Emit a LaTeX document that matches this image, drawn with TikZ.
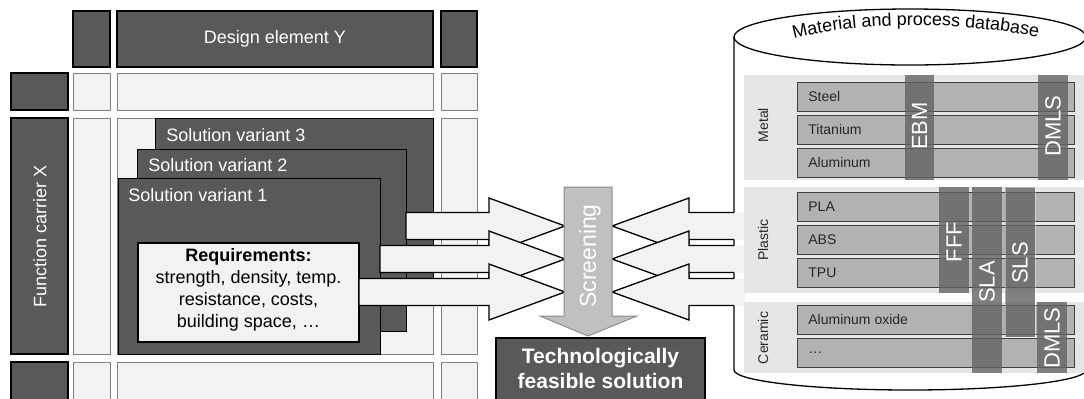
\documentclass[tikz,border=0pt]{standalone}
\usepackage{fontspec}
\setmainfont{Liberation Sans}
\usetikzlibrary{decorations.text}

\definecolor{cellDark}{HTML}{595959}
\definecolor{cellLight}{HTML}{F2F2F2}
\definecolor{groupBg}{HTML}{E6E6E6}
\definecolor{rowFill}{HTML}{B2B2B2}
\definecolor{procBar}{HTML}{636363}
\definecolor{screenFill}{HTML}{C0C0C0}
\newcommand{\dbtitlefont}{\fontsize{9}{11}\selectfont}

\begin{document}
\begin{tikzpicture}[x=0.5pt, y=-0.5pt,
  darkcell/.style={fill=cellDark, draw=black, line width=0.75pt},
  lightcell/.style={fill=cellLight, draw=black!50, line width=0.5pt},
  variant/.style={fill=cellDark, draw=black, line width=0.5pt},
  reqbox/.style={fill=cellLight, draw=black, line width=0.6pt},
  celltext/.style={text=white, font=\fontsize{9}{11}\selectfont},
  vartext/.style={celltext, anchor=north west, inner sep=0pt},
  blockarr/.style={fill=cellLight, draw=black, line width=0.65pt, line join=miter},
  screenarr/.style={fill=screenFill, draw=black!45, line width=0.5pt},
  techbox/.style={fill=cellDark, draw=black, line width=1.25pt},
  techtext/.style={text=white, align=center, font=\fontsize{10.5}{12.5}\selectfont\bfseries},
  dbshape/.style={fill=white, draw=black, line width=0.65pt},
  groupbg/.style={fill=groupBg, draw=none},
  grouplabel/.style={rotate=90, text=black!85, font=\fontsize{7}{8}\selectfont},
  dbrow/.style={fill=rowFill, draw=black!75, line width=0.5pt},
  rowtext/.style={anchor=west, inner sep=0pt, text=black!85, font=\fontsize{7}{8}\selectfont},
  procbar/.style={fill=procBar, fill opacity=0.8, draw=none},
  proctext/.style={rotate=90, text=white, font=\fontsize{11}{13}\selectfont},
]
\clip (0,0) rectangle (1084,398);
% ====== MORPHOLOGICAL GRID ======
\draw[darkcell] (73,11) rectangle (110,67);
\draw[darkcell] (117,11) rectangle (433,67);
\draw[darkcell] (441,11) rectangle (477,67);
\node[celltext] (designY) at (275,39) {Design element Y};
%
\draw[darkcell] (11,73) rectangle (68,110);
\draw[lightcell] (73,73) rectangle (110,110);
\draw[lightcell] (117,73) rectangle (433,110);
\draw[lightcell] (441,73) rectangle (477,110);
%
\draw[darkcell] (11,118) rectangle (68,354);
\draw[lightcell] (73,118) rectangle (110,354);
\draw[lightcell] (117,118) rectangle (433,354);
\draw[lightcell] (441,118) rectangle (477,354);
\node[celltext, rotate=90] (carrierX) at (40,236) {Function carrier X};
%
\draw[darkcell] (11,362) rectangle (68,402);
\draw[lightcell] (73,362) rectangle (110,402);
\draw[lightcell] (117,362) rectangle (433,402);
\draw[lightcell] (441,362) rectangle (477,402);
%
% ====== SOLUTION VARIANTS ======
\draw[variant] (155,118) rectangle (433,300);
\node[vartext] (var3) at (166,128) {Solution variant 3};
\draw[variant] (137,149) rectangle (406,331);
\node[vartext] (var2) at (148,158) {Solution variant 2};
\draw[variant] (118,178) rectangle (380,354);
\node[vartext] (var1) at (128,188) {Solution variant 1};
\draw[reqbox] (138,243) rectangle (359,342);
\node[align=center, font=\fontsize{9}{11}\selectfont] (req) at (248.5,290)
  {\textbf{Requirements:}\\strength, density, temp.\\resistance, costs,\\building space, …};
%
% ====== DATABASE ======
\draw[dbshape] (734,37) -- (734,370)
  arc[start angle=180, end angle=0, x radius=176, y radius=20] -- (1086,37);
\draw[dbshape] (910,37) ellipse [x radius=176, y radius=28];
\path[decorate, decoration={text along path, text align=center,
  text={|\dbtitlefont|Material and process database}}]
  (792,39) .. controls (858,21) and (962,21) .. (1040,38);
%
% ====== ARROWS INTO SCREENING ======
\draw[blockarr] (406,212.5) -- (489,212.5) -- (489,198) -- (565,226) -- (489,254) -- (489,239.5) -- (406,239.5) -- cycle;
\draw[blockarr] (380,245.5) -- (489,245.5) -- (489,231) -- (565,259) -- (489,287) -- (489,272.5) -- (380,272.5) -- cycle;
\draw[blockarr] (359,278.5) -- (489,278.5) -- (489,264) -- (565,292) -- (489,320) -- (489,305.5) -- (359,305.5) -- cycle;
\fill[cellLight] (745,212.5) -- (689,212.5) -- (689,198) -- (612,226) -- (689,254) -- (689,239.5) -- (745,239.5) -- cycle;
\draw[blockarr, fill=none] (734,212.5) -- (689,212.5) -- (689,198) -- (612,226) -- (689,254) -- (689,239.5) -- (734,239.5);
\fill[cellLight] (745,245.5) -- (689,245.5) -- (689,231) -- (612,259) -- (689,287) -- (689,272.5) -- (745,272.5) -- cycle;
\draw[blockarr, fill=none] (734,245.5) -- (689,245.5) -- (689,231) -- (612,259) -- (689,287) -- (689,272.5) -- (734,272.5);
\fill[cellLight] (745,278.5) -- (689,278.5) -- (689,264) -- (612,292) -- (689,320) -- (689,305.5) -- (745,305.5) -- cycle;
\draw[blockarr, fill=none] (734,278.5) -- (689,278.5) -- (689,264) -- (612,292) -- (689,320) -- (689,305.5) -- (734,305.5);
%
% ====== MATERIAL GROUPS ======
\path[groupbg] (744,75) rectangle (1090,180);
\path[groupbg] (744,187) rectangle (1090,293);
\path[groupbg] (744,302) rectangle (1090,373);
\node[grouplabel] (metal) at (763,125) {Metal};
\node[grouplabel] (plastic) at (763,240) {Plastic};
\node[grouplabel] (ceramic) at (763,338) {Ceramic};
%
\draw[dbrow] (797,82) rectangle (1074,111);
\node[rowtext] (steel) at (808,96.5) {Steel};
\draw[dbrow] (797,115) rectangle (1074,144);
\node[rowtext] (titanium) at (808,129.5) {Titanium};
\draw[dbrow] (797,148) rectangle (1074,177);
\node[rowtext] (aluminum) at (808,162.5) {Aluminum};
\draw[dbrow] (797,192) rectangle (1074,221);
\node[rowtext] (pla) at (808,206.5) {PLA};
\draw[dbrow] (797,225) rectangle (1074,254);
\node[rowtext] (abs) at (808,239.5) {ABS};
\draw[dbrow] (797,258) rectangle (1074,287);
\node[rowtext] (tpu) at (808,272.5) {TPU};
\draw[dbrow] (797,305) rectangle (1074,334);
\node[rowtext] (alox) at (808,319.5) {Aluminum oxide};
\draw[dbrow] (797,338) rectangle (1074,367);
\node[rowtext] (more) at (808,352.5) {…};
%
% ====== PROCESSES ======
\path[procbar] (905,75) rectangle (934,180);
\path[procbar] (1038,75) rectangle (1068,180);
\path[procbar] (939,187) rectangle (969,293);
\path[procbar] (972,187) rectangle (1002,373);
\path[procbar, draw=white, draw opacity=0.4, line width=0.5pt] (1005,187) rectangle (1035,337);
\path[procbar] (1037,302) rectangle (1067,373);
\node[proctext] (ebm) at (919.5,126) {EBM};
\node[proctext] (dmlsA) at (1053,126) {DMLS};
\node[proctext] (fff) at (954,242) {FFF};
\node[proctext] (sla) at (987,282) {SLA};
\node[proctext] (sls) at (1020,263) {SLS};
\node[proctext] (dmlsB) at (1052,338) {DMLS};
%
% ====== SCREENING AND RESULT ======
\draw[screenarr] (564,187) -- (612,187) -- (612,316) -- (637,316) -- (588,336) -- (540,316) -- (564,316) -- cycle;
\node[rotate=90, text=white, font=\fontsize{11.5}{13}\selectfont] (screening) at (590,256) {Screening};
\draw[techbox] (496,338) rectangle (705,400);
\node[techtext] (feasible) at (600.5,368) {Technologically\\feasible solution};
\end{tikzpicture}
\end{document}
